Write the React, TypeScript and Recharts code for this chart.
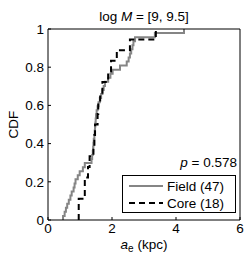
import React from 'react';
import { LineChart, Line, XAxis, YAxis, Legend, Label } from 'recharts';

const fieldValues = [0.47,0.52,0.56,0.6,0.65,0.7,0.74,0.8,0.83,0.86,0.93,0.99,1.09,1.15,1.36,1.38,1.4,1.41,1.42,1.43,1.45,1.46,1.47,1.48,1.49,1.5,1.52,1.55,1.58,1.62,1.66,1.7,1.74,1.78,1.88,1.95,2.02,2.25,2.46,2.52,2.56,2.6,2.64,2.67,2.72,3.34,4.25];
const coreValues = [0.96,0.96,1.15,1.15,1.25,1.3,1.42,1.45,1.47,1.55,1.57,1.63,1.7,1.88,1.97,2.15,2.56,3.37];
const xTicks = [0, 2, 4, 6];
const yTicks = [0, 0.2, 0.4, 0.6, 0.8, 1];
const pValue = '0.578';
const seriesNames = ['Field (47)', 'Core (18)'];

function ecdf(vals: number[]) {
  const n = vals.length;
  const pts = [{ x: vals[0], y: 0 }];
  vals.forEach((v, i) => pts.push({ x: v, y: (i + 1) / n }));
  return pts;
}
const fieldPts = ecdf(fieldValues);
const corePts = ecdf(coreValues);

const FONT = '"Liberation Sans", Arial, sans-serif';
const FS = 13.5;
const GRAY = '#858585';

const yFmt = (v: number) => (v === 0 ? '0' : v === 1 ? '1' : String(v));

const LegendBox = () => (
  <div style={{ border: '1px solid #000', background: '#fff', width: 112, height: 36, fontFamily: FONT, fontSize: FS, color: '#000', boxSizing: 'content-box' }}>
    {seriesNames.map((name, i) => (
      <div key={name} style={{ display: 'flex', alignItems: 'center', height: 18, marginTop: i === 0 ? 1 : -1 }}>
        <svg width={44} height={18} style={{ flex: 'none' }}>
          <line x1={6} x2={40} y1={9} y2={9} stroke={i === 0 ? GRAY : '#000'} strokeWidth={2} strokeDasharray={i === 0 ? undefined : '6 4'} />
        </svg>
        <span style={{ whiteSpace: 'nowrap' }}>{name}</span>
      </div>
    ))}
  </div>
);

export default function App() {
  return (
    <div style={{ position: 'absolute', left: 0, top: 0, width: 249, height: 259, background: '#fff' }}>
      <LineChart width={249} height={259} margin={{ top: 28, left: 47, right: 8, bottom: 38 }}>
        <XAxis xAxisId="b" dataKey="x" type="number" domain={[0, 6]} ticks={xTicks} orientation="bottom" height={1}
          axisLine={{ stroke: '#000' }} tickLine={{ stroke: '#000' }} tickSize={-3} tickMargin={6}
          tick={{ fill: '#000', fontSize: FS, fontFamily: FONT }} interval={0} allowDataOverflow>
          <Label content={(props: any) => {
            const vb = props.viewBox;
            const cx = vb.x + vb.width / 2;
            return (
              <text x={cx} y={249} textAnchor="middle" fontFamily={FONT} fontSize={FS} fill="#000">
                <tspan fontStyle="italic">a</tspan><tspan fontSize={10} dy={3}>e</tspan><tspan dy={-3}> (kpc)</tspan>
              </text>
            );
          }} />
        </XAxis>
        <XAxis xAxisId="t" dataKey="x" type="number" domain={[0, 6]} ticks={xTicks} orientation="top" height={1}
          axisLine={{ stroke: '#000' }} tickLine={{ stroke: '#000' }} tickSize={-3} tickFormatter={() => ''} interval={0}>
          <Label content={(props: any) => {
            const vb = props.viewBox;
            const cx = vb.x + vb.width / 2;
            return (
              <text x={cx} y={21} textAnchor="middle" fontFamily={FONT} fontSize={FS} fill="#000">
                log <tspan fontStyle="italic">M</tspan> = [9, 9.5]
              </text>
            );
          }} />
        </XAxis>
        <YAxis yAxisId="l" type="number" domain={[0, 1]} ticks={yTicks} width={1} orientation="left"
          axisLine={{ stroke: '#000' }} tickLine={{ stroke: '#000' }} tickSize={-3} tickMargin={7}
          tickFormatter={yFmt} tick={{ fill: '#000', fontSize: FS, fontFamily: FONT }} interval={0}>
          <Label content={() => (
            <text x={18} y={124.5} textAnchor="middle" transform="rotate(-90 18 124.5)" fontFamily={FONT} fontSize={FS} fill="#000">CDF</text>
          )} />
        </YAxis>
        <YAxis yAxisId="r" type="number" domain={[0, 1]} ticks={yTicks} width={1} orientation="right"
          axisLine={{ stroke: '#000' }} tickLine={{ stroke: '#000' }} tickSize={-3} tickFormatter={() => ''} interval={0} />
        <Line xAxisId="b" yAxisId="l" data={fieldPts} dataKey="y" type="stepAfter" stroke={GRAY} strokeWidth={2}
          dot={false} isAnimationActive={false} />
        <Line xAxisId="b" yAxisId="l" data={corePts} dataKey="y" type="stepAfter" stroke="#000" strokeWidth={2}
          strokeDasharray="6 4" dot={false} isAnimationActive={false} />
        <Legend layout="horizontal" verticalAlign="middle" align="center" content={() => <LegendBox />}
          wrapperStyle={{ position: 'absolute', left: 122, top: 175, width: 'auto' }} />
      </LineChart>
      <div style={{ position: 'absolute', right: 12, top: 155, fontFamily: FONT, fontSize: FS, color: '#000', whiteSpace: 'nowrap' }}>
        <i>p</i> = {pValue}
      </div>
    </div>
  );
}
